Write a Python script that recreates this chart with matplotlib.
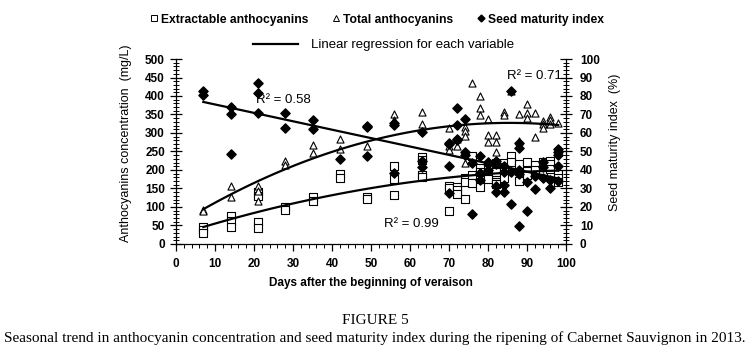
import numpy as np
import matplotlib
matplotlib.use('Agg')
import matplotlib.pyplot as plt
from matplotlib.lines import Line2D
from matplotlib.ticker import MultipleLocator

plt.rcParams['font.family'] = 'Liberation Sans'

# extractable anthocyanins (mg/L), squares
ext_days = [7, 7, 7, 14, 14, 14, 21, 21, 21, 21, 28, 28, 35, 35, 42, 42, 49, 49,
            56, 56, 56, 63, 63, 63, 63, 70, 70, 70, 72, 72, 72, 74, 74, 74,
            76, 76, 76, 78, 78, 78, 80, 80, 82, 82, 82, 82, 84, 84, 84, 86, 86,
            88, 88, 90, 90, 90, 92, 92, 94, 94, 96, 96, 96, 98, 98, 98]
ext_vals = [45, 38, 31, 77, 62, 47, 141, 131, 60, 42, 101, 92, 126, 117, 189, 179, 128, 122,
            212, 176, 132, 236, 227, 186, 180, 158, 151, 89, 155, 146, 135, 179, 168, 121,
            239, 186, 164, 205, 194, 155, 182, 176, 218, 194, 168, 161, 218, 209, 178, 239, 222,
            215, 170, 221, 197, 186, 214, 200, 221, 197, 224, 215, 203, 188, 179, 168]

# total anthocyanins (mg/L), triangles
tot_days = [7, 7, 14, 14, 21, 21, 21, 28, 28, 35, 35, 42, 42, 49, 56, 56, 63, 63,
            70, 70, 70, 72, 72, 74, 74, 74, 74, 76, 78, 78, 78, 80, 80, 80,
            82, 82, 82, 84, 84, 86, 88, 88, 88, 90, 90, 90, 92, 92, 94, 94, 94,
            96, 96, 96, 98]
tot_vals = [92, 88, 157, 128, 157, 143, 116, 224, 214, 268, 245, 283, 256, 265, 351, 335, 358, 324,
            313, 266, 254, 284, 266, 317, 305, 293, 218, 434, 401, 367, 349, 338, 295, 275,
            295, 275, 248, 358, 349, 413, 351, 278, 268, 378, 353, 341, 353, 290, 332, 324, 313,
            343, 335, 324, 326]

# seed maturity index (%), diamonds
seed_days = [7, 7, 14, 14, 14, 21, 21, 21, 28, 28, 35, 35, 42, 49, 49, 49, 56, 56, 56,
             63, 63, 63, 70, 70, 70, 70, 72, 72, 72, 72, 74, 74, 74, 76, 76, 78, 78, 78,
             80, 80, 80, 82, 82, 82, 82, 84, 84, 84, 84, 86, 86, 86, 88, 88, 88, 88, 88,
             90, 90, 92, 92, 94, 94, 94, 96, 96, 98, 98, 98, 98, 98]
seed_vals = [82.9, 80.5, 73.9, 70.1, 48.8, 87.2, 81.5, 71.0, 71.0, 62.9, 67, 62, 45.8, 64, 63.5, 47.6,
             65.6, 64.3, 38.5, 60.7, 45, 41.8, 54.8, 53.9, 42, 27.4, 73.3, 64.3, 57, 56,
             67.6, 49.5, 48.1, 43.6, 16, 47.7, 38.2, 34.6, 44.5, 43.1, 40, 45, 43, 31.5, 28.3,
             42, 39, 32, 28, 82.7, 39, 21.5, 54.4, 52, 40, 38, 9.9, 33.3, 17.8, 36.6, 29.7,
             44.3, 41.6, 35.8, 34.4, 30, 51.3, 49.5, 48.0, 41.9, 34]

r2_labels = ['R\u00b2 = 0.99', 'R\u00b2 = 0.71', 'R\u00b2 = 0.58']

fig = plt.figure(figsize=(7.5, 3.55), dpi=100)
ax = fig.add_axes([0.2347, 0.3127, 0.52, 0.5211])
ax2 = ax.twinx()

ax.scatter(ext_days, ext_vals, marker='s', s=26, facecolor='white', edgecolor='black', linewidth=0.8, zorder=3)
ax.scatter(tot_days, tot_vals, marker='^', s=26, facecolor='white', edgecolor='black', linewidth=0.8, zorder=3)
ax2.scatter(seed_days, seed_vals, marker='D', s=22, facecolor='black', edgecolor='black', zorder=3)

# trend lines fitted from the points (seed one is close to straight)
xx = np.linspace(7, 98, 100)
for d, v, a, deg in [(ext_days, ext_vals, ax, 2), (tot_days, tot_vals, ax, 2), (seed_days, seed_vals, ax2, 1)]:
    p = np.polyfit(d, v, deg)
    a.plot(xx, np.polyval(p, xx), color='black', linewidth=1.6, zorder=4)

ax.set_xlim(0, 100)
ax.set_ylim(0, 500)
ax2.set_ylim(0, 100)
ax.xaxis.set_major_locator(MultipleLocator(10))
ax.xaxis.set_minor_locator(MultipleLocator(2))
ax.yaxis.set_major_locator(MultipleLocator(50))
ax.yaxis.set_minor_locator(MultipleLocator(10))
ax2.yaxis.set_major_locator(MultipleLocator(10))
ax2.yaxis.set_minor_locator(MultipleLocator(2))

for a in (ax, ax2):
    a.spines['top'].set_visible(False)
    for s in a.spines.values():
        s.set_linewidth(0.9)
ax.spines['right'].set_visible(False)
ax2.spines['left'].set_visible(False)
ax2.spines['bottom'].set_visible(False)

ax.tick_params(axis='x', which='major', direction='out', length=5, width=0.9, labelsize=8.5, pad=5)
ax.tick_params(axis='x', which='minor', direction='out', length=3, width=0.7)
ax.tick_params(axis='y', which='major', direction='inout', length=8, width=0.9, labelsize=8.5, pad=4)
ax.tick_params(axis='y', which='minor', direction='inout', length=4, width=0.7)
ax2.tick_params(axis='y', which='major', direction='inout', length=8, width=0.9, labelsize=8.5, pad=6)
ax2.tick_params(axis='y', which='minor', direction='inout', length=4, width=0.7)
for lab in ax.get_xticklabels() + ax.get_yticklabels() + ax2.get_yticklabels():
    lab.set_fontweight('bold')

ax.set_xlabel('Days after the beginning of veraison', fontsize=8.5, fontweight='bold', labelpad=5)
ax.set_ylabel('Anthocyanins concentration  (mg/L)', fontsize=9)
ax.yaxis.set_label_coords(-0.113, 0.545)
ax2.set_ylabel('Seed maturity index  (%)', fontsize=9)
ax2.yaxis.set_label_coords(1.11, 0.55)

ax.text(60.3, 54, r2_labels[0], fontsize=9.5, ha='center', va='center')
ax2.text(92, 90.8, r2_labels[1], fontsize=9.5, ha='center', va='center')
ax2.text(27.4, 77.8, r2_labels[2], fontsize=9.5, ha='center', va='center')

h1 = [Line2D([], [], marker='s', ls='none', mfc='white', mec='black', ms=5, mew=0.7),
      Line2D([], [], marker='^', ls='none', mfc='white', mec='black', ms=5, mew=0.7),
      Line2D([], [], marker='D', ls='none', mfc='black', mec='black', ms=3.5)]
leg1 = fig.legend(h1, ['Extractable anthocyanins', 'Total anthocyanins', 'Seed maturity index'],
                  loc='center', bbox_to_anchor=(0.503, 0.945), ncol=3, frameon=False,
                  prop={'size': 8.7, 'weight': 'bold'}, handlelength=0.6, handletextpad=0.3,
                  columnspacing=2.0, borderpad=0)
leg2 = fig.legend([Line2D([], [], color='black', lw=1.6)], ['Linear regression for each variable'],
                  loc='center', bbox_to_anchor=(0.512, 0.873), frameon=False,
                  prop={'size': 9.5}, handlelength=3.4, handletextpad=1.0, borderpad=0)

fig.text(0.5, 0.098, 'FIGURE 5', family='Liberation Serif', fontsize=11, ha='center', va='center')
fig.text(0.5, 0.047, 'Seasonal trend in anthocyanin concentration and seed maturity index during the ripening of Cabernet Sauvignon in 2013.',
         family='Liberation Serif', fontsize=11, ha='center', va='center')

fig.savefig('out.png', dpi=100)
